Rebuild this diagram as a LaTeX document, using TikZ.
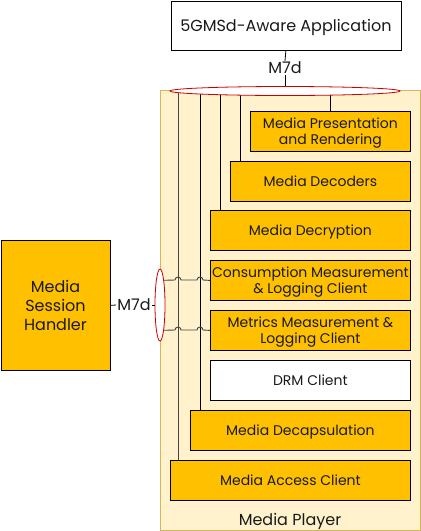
\documentclass[tikz,border=0pt]{standalone}
\usepackage{fontspec}
\setmainfont{Poppins}
\usetikzlibrary{shapes.geometric}
\definecolor{boxfill}{HTML}{FFC000}
\definecolor{playerfill}{HTML}{FFF2CC}
\definecolor{playerdraw}{HTML}{D6B656}
\definecolor{ellred}{HTML}{CC0000}
\definecolor{txt}{HTML}{1A1A1A}
\definecolor{wire}{HTML}{444444}
\begin{document}
\begin{tikzpicture}[x=1pt,y=-1pt,
  compbox/.style={draw=black, fill=boxfill, line width=0.8pt, minimum height=40pt, inner sep=0pt, anchor=north west},
  comptext/.style={font=\fontsize{14}{16.5}\selectfont, align=center, text=txt, inner sep=0pt, text depth=0pt},
  comp/.style 2 args={compbox, minimum width=#1, label={[comptext]center:#2}},
  bigtext/.style={font=\fontsize{16}{19}\selectfont, text=txt, align=center, inner sep=0pt, text depth=0pt},
  ifell/.style={ellipse, draw=ellred, fill=white, line width=0.8pt, inner sep=0pt},
  vline/.style={draw=black, line width=0.8pt},
  hline/.style={draw=wire, line width=0.9pt},
  label7/.style={font=\fontsize{16}{18}\selectfont, text=txt, inner sep=1pt}]
\useasboundingbox (0,0) rectangle (421,531);
% container
\node[draw=playerdraw, fill=playerfill, line width=0.8pt, minimum width=260pt, minimum height=440pt,
  inner sep=0pt, anchor=north west] (player) at (160,90) {};
\node[bigtext] (playerlbl) at (290,519) {Media Player};
% top application
\node[draw=black, fill=white, line width=0.8pt, minimum width=230pt, minimum height=49pt, inner sep=0pt,
  anchor=north west, label={[bigtext]center:5GMSd-Aware Application}] (app) at (170.5,0.8) {};
% session handler
\node[draw=black, fill=boxfill, line width=0.8pt, minimum width=109pt, minimum height=130pt, inner sep=0pt,
  anchor=north west, label={[bigtext]center:Media\\Session\\Handler}] (msh) at (0.6,240) {};
% components
\node[comp={160pt}{Media Presentation\\and Rendering}] (mpr) at (250,111) {};
\node[comp={180pt}{Media Decoders}] (mdec) at (230,161) {};
\node[comp={200pt}{Media Decryption}] (mdcr) at (210,210) {};
\node[comp={200pt}{Consumption Measurement\\\& Logging Client}] (cml) at (210,260) {};
\node[comp={200pt}{Metrics Measurement \&\\Logging Client}] (mml) at (210,310) {};
\node[comp={200pt}{DRM Client}, fill=white] (drm) at (210,360) {};
\node[comp={220pt}{Media Decapsulation}] (mdcp) at (190,410) {};
\node[comp={240pt}{Media Access Client}] (mac) at (170,460) {};
% ellipse positions
\coordinate (topc) at (285,91);
\coordinate (leftc) at (160,305);
% vertical lines
\draw[vline, draw=wire] ([xshift=-107pt]topc) -- ([xshift=-107pt]topc |- mac.north);
\draw[vline] ([xshift=-85pt]topc) -- ([xshift=-85pt]topc |- mdcp.north);
\draw[vline] ([xshift=-65pt]topc) -- ([xshift=-65pt]topc |- mdcr.north);
\draw[vline] ([xshift=-45pt]topc) -- ([xshift=-45pt]topc |- mdec.north);
\draw[vline] ([xshift=45pt]topc) -- ([xshift=45pt]topc |- mpr.north);
% horizontal lines with hops
\draw[hline] (leftc |- cml.west) -- (175,280) arc[start angle=180, end angle=360, radius=3]
  -- (197,280) arc[start angle=180, end angle=360, radius=3] -- (cml.west);
\draw[hline] (leftc |- mml.west) -- (175,330) arc[start angle=180, end angle=360, radius=3]
  -- (197,330) arc[start angle=180, end angle=360, radius=3] -- (mml.west);
% ellipses
\node[ifell, minimum width=230pt, minimum height=9pt] (topell) at (topc) {};
\node[ifell, minimum width=10pt, minimum height=72pt] (leftell) at (leftc) {};
% M7d labels
\node[label7] (m7top) at (285,68) {M7d};
\node[label7] (m7left) at (134,305) {M7d};
\draw[vline] (app.south) -- (m7top.north);
\draw[vline] (m7top.south) -- (topell.north);
\draw[vline] (msh.east) -- (m7left.west);
\draw[vline] (m7left.east) -- (leftell.west);
\end{tikzpicture}
\end{document}
